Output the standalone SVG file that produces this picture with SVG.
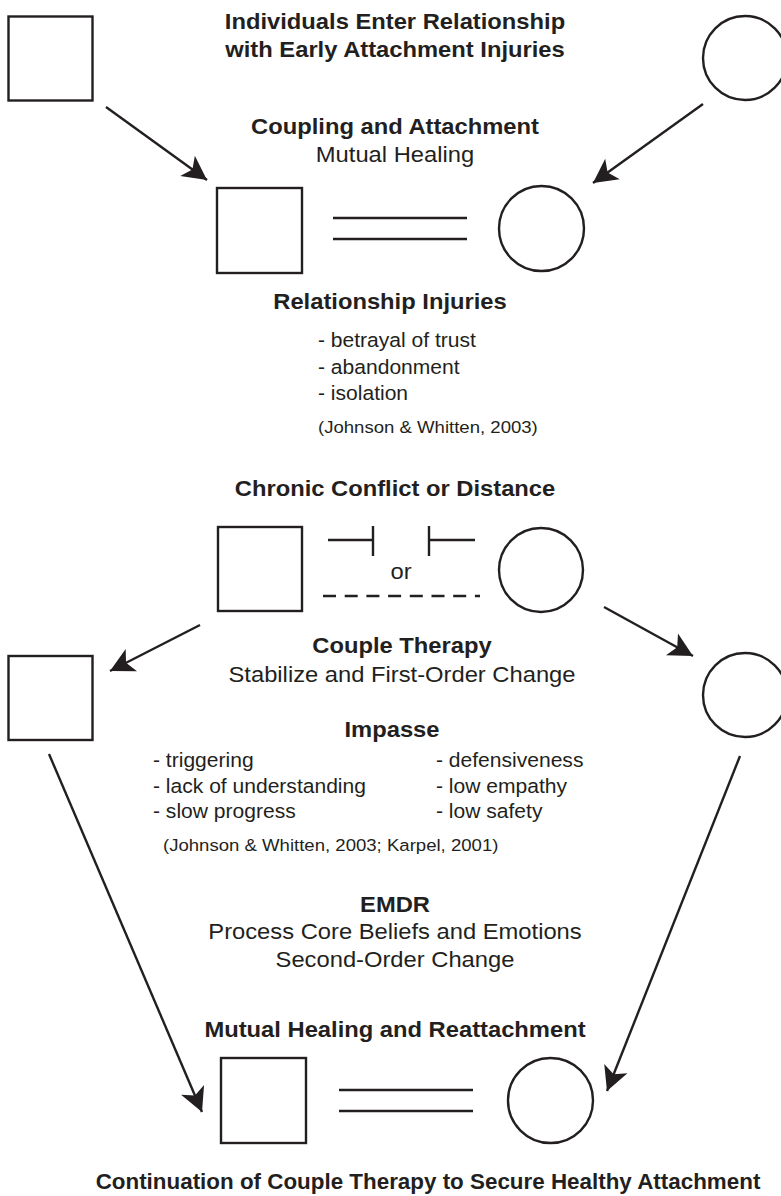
<svg xmlns="http://www.w3.org/2000/svg" width="781" height="1196" viewBox="0 0 781 1196">
  <style>
    .shape { fill: none; stroke: #231f20; stroke-width: 2.4; }
    .link { fill: none; stroke: #231f20; stroke-width: 2.4; }
    .arrow { fill: none; stroke: #231f20; stroke-width: 2.4; marker-end: url(#head); }
    text { font-family: "Liberation Sans", Arial, Helvetica, sans-serif; fill: #231f20; }
    .h { font-size: 22px; font-weight: bold; text-anchor: middle; }
    .s { font-size: 22px; text-anchor: middle; }
    .li { font-size: 19.5px; }
    .ci { font-size: 17.2px; }
  </style>
  <defs>
    <marker id="head" viewBox="-26 -14 28 28" refX="0" refY="0" markerWidth="28" markerHeight="28" markerUnits="userSpaceOnUse" orient="auto" overflow="visible">
      <path d="M0,0 L-24,-12.5 L-18,0 L-24,12.5 Z" fill="#231f20"/>
    </marker>
  </defs>
  <rect width="781" height="1196" fill="#ffffff"/>

  <!-- Stage 1: individuals -->
  <g id="partner-a-start">
    <rect class="shape" x="8.5" y="16.5" width="84" height="84"/>
  </g>
  <g id="partner-b-start">
    <circle class="shape" cx="745" cy="58" r="42"/>
  </g>
  <g id="title">
    <text class="h" transform="translate(395 29) scale(1.08 1)">Individuals Enter Relationship</text>
    <text class="h" transform="translate(395 57) scale(1.08 1)">with Early Attachment Injuries</text>
  </g>

  <!-- Stage 2: coupling -->
  <g id="coupling-label">
    <text class="h" transform="translate(395 134) scale(1.08 1)">Coupling and Attachment</text>
    <text class="s" transform="translate(395 162) scale(1.08 1)">Mutual Healing</text>
  </g>
  <g id="couple-bonded">
    <rect class="shape" x="217" y="188" width="85" height="85"/>
    <line class="link" x1="333" y1="218" x2="467" y2="218"/>
    <line class="link" x1="333" y1="239" x2="467" y2="239"/>
    <circle class="shape" cx="541.5" cy="228.5" r="42.5"/>
  </g>

  <!-- Relationship injuries -->
  <g id="injuries">
    <text class="h" transform="translate(390 309) scale(1.08 1)">Relationship Injuries</text>
    <text class="li" transform="translate(318 347) scale(1.08 1)">- betrayal of trust</text>
    <text class="li" transform="translate(318 373.5) scale(1.08 1)">- abandonment</text>
    <text class="li" transform="translate(318 400) scale(1.08 1)">- isolation</text>
    <text class="ci" transform="translate(318 433) scale(1.08 1)">(Johnson &amp; Whitten, 2003)</text>
  </g>

  <!-- Stage 3: conflict or distance -->
  <g id="conflict-label">
    <text class="h" transform="translate(395 496) scale(1.08 1)">Chronic Conflict or Distance</text>
  </g>
  <g id="couple-conflict">
    <rect class="shape" x="218" y="527" width="84" height="84"/>
    <line class="link" x1="328" y1="540" x2="373" y2="540"/>
    <line class="link" x1="373" y1="526" x2="373" y2="556"/>
    <line class="link" x1="429" y1="526" x2="429" y2="556"/>
    <line class="link" x1="429" y1="540" x2="475" y2="540"/>
    <text class="s" transform="translate(401 579) scale(1.08 1)">or</text>
    <line class="link" x1="323" y1="596" x2="480" y2="596" stroke-dasharray="13 8.7"/>
    <circle class="shape" cx="541" cy="570" r="42"/>
  </g>

  <!-- Stage 4: couple therapy -->
  <g id="partner-a-therapy">
    <rect class="shape" x="8.5" y="656" width="84" height="84"/>
  </g>
  <g id="partner-b-therapy">
    <circle class="shape" cx="745" cy="695" r="42"/>
  </g>
  <g id="therapy-label">
    <text class="h" transform="translate(402 653) scale(1.08 1)">Couple Therapy</text>
    <text class="s" transform="translate(402 682) scale(1.08 1)">Stabilize and First-Order Change</text>
  </g>
  <g id="impasse">
    <text class="h" transform="translate(392 737) scale(1.08 1)">Impasse</text>
    <text class="li" transform="translate(153 767) scale(1.08 1)">- triggering</text>
    <text class="li" transform="translate(153 793) scale(1.08 1)">- lack of understanding</text>
    <text class="li" transform="translate(153 818) scale(1.08 1)">- slow progress</text>
    <text class="li" transform="translate(436 767) scale(1.08 1)">- defensiveness</text>
    <text class="li" transform="translate(436 793) scale(1.08 1)">- low empathy</text>
    <text class="li" transform="translate(436 818) scale(1.08 1)">- low safety</text>
    <text class="ci" transform="translate(163 851) scale(1.08 1)">(Johnson &amp; Whitten, 2003; Karpel, 2001)</text>
  </g>

  <!-- Stage 5: EMDR -->
  <g id="emdr">
    <text class="h" transform="translate(395 912) scale(1.08 1)">EMDR</text>
    <text class="s" transform="translate(395 939) scale(1.08 1)">Process Core Beliefs and Emotions</text>
    <text class="s" transform="translate(395 967) scale(1.08 1)">Second-Order Change</text>
  </g>

  <!-- Stage 6: reattachment -->
  <g id="reattachment-label">
    <text class="h" transform="translate(395 1037) scale(1.08 1)">Mutual Healing and Reattachment</text>
  </g>
  <g id="couple-reattached">
    <rect class="shape" x="221" y="1058" width="85" height="85"/>
    <line class="link" x1="339" y1="1090" x2="473" y2="1090"/>
    <line class="link" x1="339" y1="1111" x2="473" y2="1111"/>
    <circle class="shape" cx="550.5" cy="1100.5" r="42.5"/>
  </g>
  <g id="closing-label">
    <text class="h" x="428" y="1189" style="font-size:22.4px">Continuation of Couple Therapy to Secure Healthy Attachment</text>
  </g>

  <!-- Connectors -->
  <g id="connectors">
    <line class="arrow" x1="106" y1="107" x2="207" y2="180"/>
    <line class="arrow" x1="703" y1="104" x2="593" y2="183"/>
    <line class="arrow" x1="200" y1="625" x2="110" y2="671"/>
    <line class="arrow" x1="604" y1="607" x2="693" y2="656"/>
    <line class="arrow" x1="49" y1="754" x2="202" y2="1112"/>
    <line class="arrow" x1="740" y1="756" x2="607" y2="1091"/>
  </g>
</svg>
